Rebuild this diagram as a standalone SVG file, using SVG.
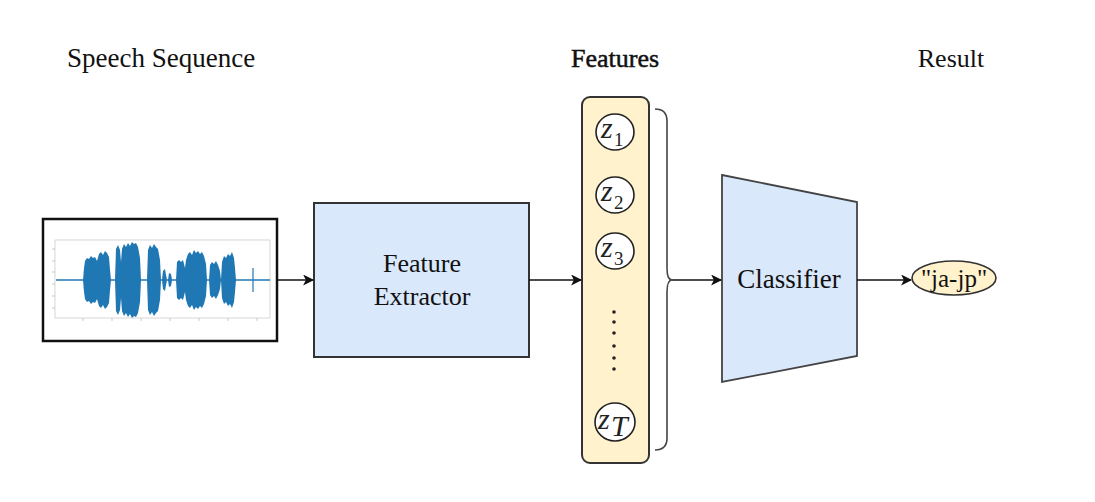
<svg xmlns="http://www.w3.org/2000/svg" width="1095" height="502" viewBox="0 0 1095 502">
<style>
.lbl{font-family:"Liberation Serif","Times New Roman",serif;fill:#111;}
.t26{font-size:26px;}
.conn{stroke:#111;stroke-width:1.6;fill:none;}
.zc{fill:#fff;stroke:#222;stroke-width:1.6;}
.zt{font-family:"Liberation Serif","Times New Roman",serif;font-style:italic;font-size:30px;fill:#222;}
.sub{font-family:"Liberation Serif","Times New Roman",serif;font-size:19px;fill:#222;}
.wave{fill:#1f77b4;}
</style>
<defs>
<marker id="arr" viewBox="0 0 10 10" refX="9" refY="5" markerWidth="12" markerHeight="11" markerUnits="userSpaceOnUse" orient="auto">
<path d="M0,0 L10,5 L0,10 L2.5,5 Z" fill="#111"/>
</marker>
<g id="wave-top">
<path class="wave" d="M83,280 L84,268 L85,261 L87,258 L89,259 L91,256 L93,258 L95,257 L97,261 L99,254 L101,252 L103,255 L105,251 L107,253 L109,257 L110,270 L111,280 Z"/>
<path class="wave" d="M115,280 L116,249 L118,245 L120,250 L121,262 L122,249 L124,244 L126,247 L128,243 L130,246 L132,242 L134,244 L136,243 L138,247 L140,258 L141,280 Z"/>
<path class="wave" d="M147,280 L148,250 L150,245 L152,248 L154,244 L156,247 L158,249 L160,260 L161,280 Z"/>
<path class="wave" d="M162,280 L163,271 L165,269 L166,275 L167,280 Z"/>
<path class="wave" d="M168,280 L169,273 L171,274 L172,280 Z"/>
<path class="wave" d="M176,280 L177,262 L179,260 L181,262 L183,260 L185,268 L186,260 L188,254 L190,252 L192,255 L194,250 L196,253 L198,251 L200,254 L202,252 L204,256 L206,264 L207,280 Z"/>
<path class="wave" d="M209,280 L210,265 L212,262 L214,264 L216,261 L218,265 L220,271 L221,280 Z"/>
<path class="wave" d="M221,280 L222,262 L224,256 L226,258 L228,254 L230,256 L232,252 L234,258 L235,268 L236,280 Z"/>
</g>
</defs>
<rect width="1095" height="502" fill="#fff"/>

<g id="titles">
<text class="lbl" x="67" y="67" font-size="27">Speech Sequence</text>
<text class="lbl" x="615" y="67" font-size="26" stroke="#111" stroke-width="0.5" text-anchor="middle">Features</text>
<text class="lbl t26" x="951" y="67" text-anchor="middle">Result</text>
</g>

<g id="speech">
<rect x="43" y="219" width="234" height="122" fill="#fff" stroke="#111" stroke-width="2.5"/>
<rect x="55" y="240" width="215" height="78" fill="none" stroke="#ccc" stroke-width="0.8"/>
<g stroke="#bbb" stroke-width="0.8">
<line x1="52" y1="249" x2="55" y2="249"/><line x1="52" y1="261" x2="55" y2="261"/><line x1="52" y1="272" x2="55" y2="272"/><line x1="52" y1="284" x2="55" y2="284"/><line x1="52" y1="296" x2="55" y2="296"/><line x1="52" y1="308" x2="55" y2="308"/>
<line x1="83" y1="318" x2="83" y2="321"/><line x1="112" y1="318" x2="112" y2="321"/><line x1="141" y1="318" x2="141" y2="321"/><line x1="170" y1="318" x2="170" y2="321"/><line x1="199" y1="318" x2="199" y2="321"/><line x1="228" y1="318" x2="228" y2="321"/><line x1="257" y1="318" x2="257" y2="321"/>
</g>
<line x1="56" y1="280" x2="270" y2="280" stroke="#1f77b4" stroke-width="1.6"/>
<use href="#wave-top"/>
<use href="#wave-top" transform="translate(0,560) scale(1,-1)"/>
<line x1="253" y1="268" x2="253" y2="292" stroke="#1f77b4" stroke-width="1.2"/>
</g>

<g id="extractor">
<rect x="314" y="203" width="215" height="154" fill="#dae8fc" stroke="#333" stroke-width="2"/>
<text class="lbl t26" x="422" y="272" text-anchor="middle">Feature</text>
<text class="lbl t26" x="422" y="305" text-anchor="middle">Extractor</text>
</g>

<g id="features">
<rect x="582" y="97" width="67" height="366" rx="8" fill="#fff2cc" stroke="#333" stroke-width="2"/>
<g id="z1"><ellipse class="zc" cx="615" cy="132" rx="19" ry="18"/><text class="zt" x="601" y="138">z</text><text class="sub" x="614" y="146">1</text></g>
<g id="z2"><ellipse class="zc" cx="615" cy="195" rx="19" ry="18"/><text class="zt" x="601" y="201">z</text><text class="sub" x="614" y="209">2</text></g>
<g id="z3"><ellipse class="zc" cx="615" cy="251" rx="19" ry="18"/><text class="zt" x="601" y="257">z</text><text class="sub" x="614" y="265">3</text></g>
<g id="dots" fill="#222">
<circle cx="614" cy="312" r="1.8"/><circle cx="614" cy="322" r="1.8"/><circle cx="614" cy="333" r="1.8"/><circle cx="614" cy="346" r="1.8"/><circle cx="614" cy="358" r="1.8"/><circle cx="614" cy="369" r="1.8"/>
</g>
<g id="zT"><ellipse class="zc" cx="615" cy="422" rx="20" ry="19"/><text class="zt" x="598" y="429">z</text><text class="zt" x="611" y="436" font-size="21">T</text></g>
</g>

<g id="brace">
<path d="M655,109 Q667,109 667,121 L667,268 Q667,280 672,280 Q667,280 667,292 L667,438 Q667,450 655,450" fill="none" stroke="#444" stroke-width="1.6"/>
</g>

<g id="classifier">
<path d="M722,175 L857,202 L857,356 L722,382 Z" fill="#dae8fc" stroke="#444" stroke-width="1.8"/>
<text class="lbl" x="789" y="288" font-size="27" text-anchor="middle">Classifier</text>
</g>

<g id="result">
<ellipse cx="954" cy="278" rx="42" ry="17" fill="#fff2cc" stroke="#333" stroke-width="1.6"/>
<text class="lbl" x="954" y="287" font-size="25" text-anchor="middle">"ja-jp"</text>
</g>

<g id="connectors">
<line class="conn" x1="277" y1="280" x2="313" y2="280" marker-end="url(#arr)"/>
<line class="conn" x1="529" y1="280" x2="581" y2="280" marker-end="url(#arr)"/>
<line class="conn" x1="672" y1="280" x2="721" y2="280" marker-end="url(#arr)"/>
<line class="conn" x1="857" y1="280" x2="911" y2="280" marker-end="url(#arr)"/>
</g>
</svg>
